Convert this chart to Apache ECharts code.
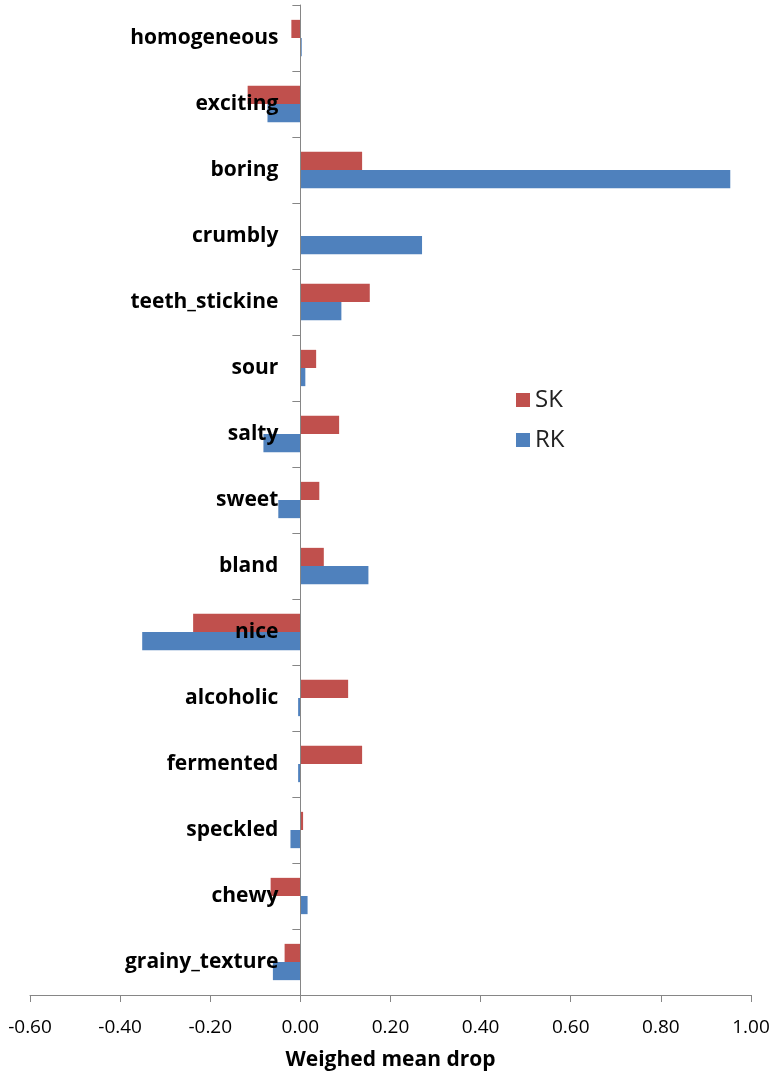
<!DOCTYPE html>
<html>
<head>
<meta charset="utf-8">
<script src="https://cdn.jsdelivr.net/npm/echarts@6/dist/echarts.min.js"></script>
<style>
  html, body { margin: 0; padding: 0; background: #fff; }
  #chart { width: 774px; height: 1075px; }
</style>
</head>
<body>
<div id="chart"></div>
<script>
// categories, top to bottom
var categories = ['homogeneous', 'exciting', 'boring', 'crumbly', 'teeth_stickine', 'sour', 'salty',
  'sweet', 'bland', 'nice', 'alcoholic', 'fermented', 'speckled', 'chewy', 'grainy_texture'];
var skValues = [-0.020, -0.117, 0.137, 0, 0.154, 0.035, 0.086, 0.042, 0.052, -0.238, 0.106, 0.137, 0.006, -0.066, -0.035];
var rkValues = [0.003, -0.073, 0.954, 0.270, 0.091, 0.011, -0.082, -0.049, 0.151, -0.351, -0.005, -0.005, -0.022, 0.016, -0.061];
var xTicks = { min: -0.6, max: 1.0, interval: 0.2 };

var gridLeft = 30, gridRight = 23;
var plotW = 774 - gridLeft - gridRight;
// shift the category axis onto x = 0 (labels move with it)
var zeroOffset = -plotW * (0 - xTicks.min) / (xTicks.max - xTicks.min);

var chart = echarts.init(document.getElementById('chart'));
chart.setOption({
  animation: false,
  legend: {
    orient: 'vertical',
    left: 511,
    top: 383,
    icon: 'rect',
    itemWidth: 14,
    itemHeight: 14,
    itemGap: 16,
    textStyle: { fontSize: 24, color: '#222', fontFamily: 'Liberation Sans Narrow, Open Sans, sans-serif' },
    data: ['SK', 'RK']
  },
  grid: { left: gridLeft, right: gridRight, top: 5, bottom: 80, containLabel: false, outerBoundsMode: 'none' },
  xAxis: {
    type: 'value',
    min: xTicks.min,
    max: xTicks.max,
    interval: xTicks.interval,
    name: 'Weighed mean drop',
    nameLocation: 'middle',
    nameGap: 55,
    nameTextStyle: { fontSize: 21, fontWeight: 'bold', color: '#000', fontFamily: 'Liberation Sans Narrow, Open Sans, sans-serif' },
    axisLine: { show: true, lineStyle: { color: '#868686', width: 1 } },
    axisTick: { show: true, length: 7, lineStyle: { color: '#868686' } },
    splitLine: { show: false },
    axisLabel: {
      margin: 23,
      fontSize: 19,
      color: '#000',
      fontFamily: 'Liberation Sans Narrow, Open Sans, sans-serif',
      formatter: function (v) { return v.toFixed(2); }
    }
  },
  yAxis: {
    type: 'category',
    inverse: true,
    data: categories,
    z: 5,
    offset: zeroOffset,
    axisLine: { show: true, onZero: false, lineStyle: { color: '#868686', width: 1 } },
    axisTick: { show: true, length: 8, lineStyle: { color: '#868686' } },
    axisLabel: {
      margin: 22,
      fontSize: 21,
      fontWeight: 'bold',
      color: '#000',
      padding: [4, 0, 0, 0],
      fontFamily: 'Open Sans, sans-serif'
    }
  },
  series: [
    {
      name: 'SK',
      type: 'bar',
      data: skValues,
      barGap: '0%',
      barCategoryGap: '45%',
      itemStyle: { color: '#C0504D' }
    },
    {
      name: 'RK',
      type: 'bar',
      data: rkValues,
      barGap: '0%',
      barCategoryGap: '45%',
      itemStyle: { color: '#4F81BD' }
    }
  ]
});
</script>
</body>
</html>
